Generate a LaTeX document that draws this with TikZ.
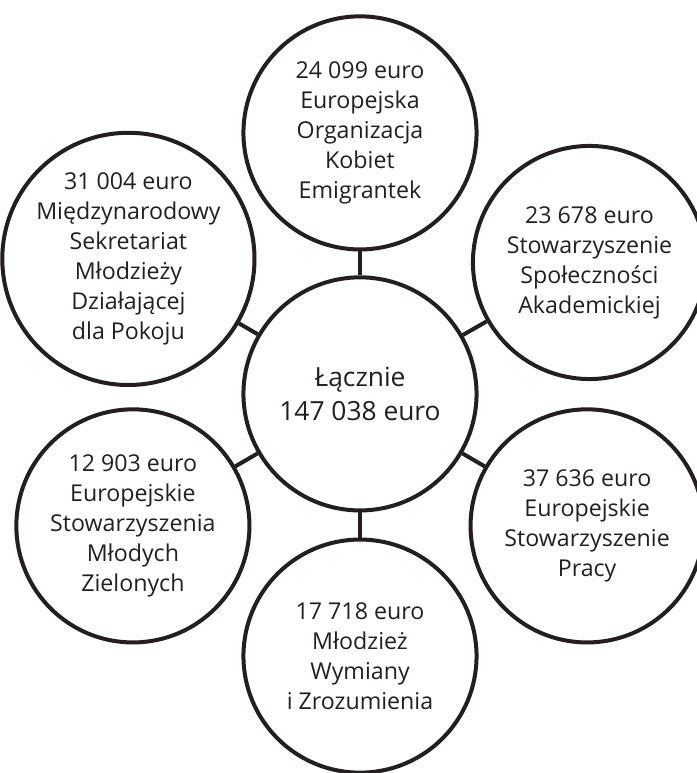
\documentclass[tikz,border=0pt]{standalone}
\usepackage{fontspec}
\setmainfont{Open Sans}
\definecolor{ink}{HTML}{231F20}

\begin{document}
\begin{tikzpicture}[
  orgc/.style={circle, draw=ink, line width=3.8pt, minimum size=7.77cm, inner sep=0pt, align=center, text=ink, font=\fontsize{22}{28.45}\selectfont},
  sumc/.style={orgc, font=\fontsize{25}{33}\selectfont},
  link/.style={draw=ink, line width=3.8pt},
]
\useasboundingbox (0,0) rectangle (23.233,-25.767);
\clip (0,0) rectangle (23.233,-25.767);

\node[sumc] (total) at (12.0,-13.13) {Łącznie\\147 038 euro};

\node[orgc] (emigr)   at (12.0,-4.43)  {24 099 euro\\Europejska\\Organizacja\\Kobiet\\Emigrantek};
\node[orgc] (akad)    at (19.65,-8.75) {23 678 euro\\Stowarzyszenie\\Społeczności\\Akademickiej};
\node[orgc] (praca)   at (19.57,-17.53) {37 636 euro\\Europejskie\\Stowarzyszenie\\Pracy};
\node[orgc] (wymiana) at (12.0,-21.87) {17 718 euro\\Młodzież\\Wymiany\\i Zrozumienia};
\node[orgc] (zieloni) at (4.43,-17.53) {12 903 euro\\Europejskie\\Stowarzyszenia\\Młodych\\Zielonych};
\node[orgc] (pokoj)   at (4.28,-8.63)  {31 004 euro\\Międzynarodowy\\Sekretariat\\Młodzieży\\Działającej\\dla Pokoju};

\foreach \n in {emigr, akad, praca, wymiana, zieloni, pokoj}
  \draw[link] (total) -- (\n);
\end{tikzpicture}
\end{document}
